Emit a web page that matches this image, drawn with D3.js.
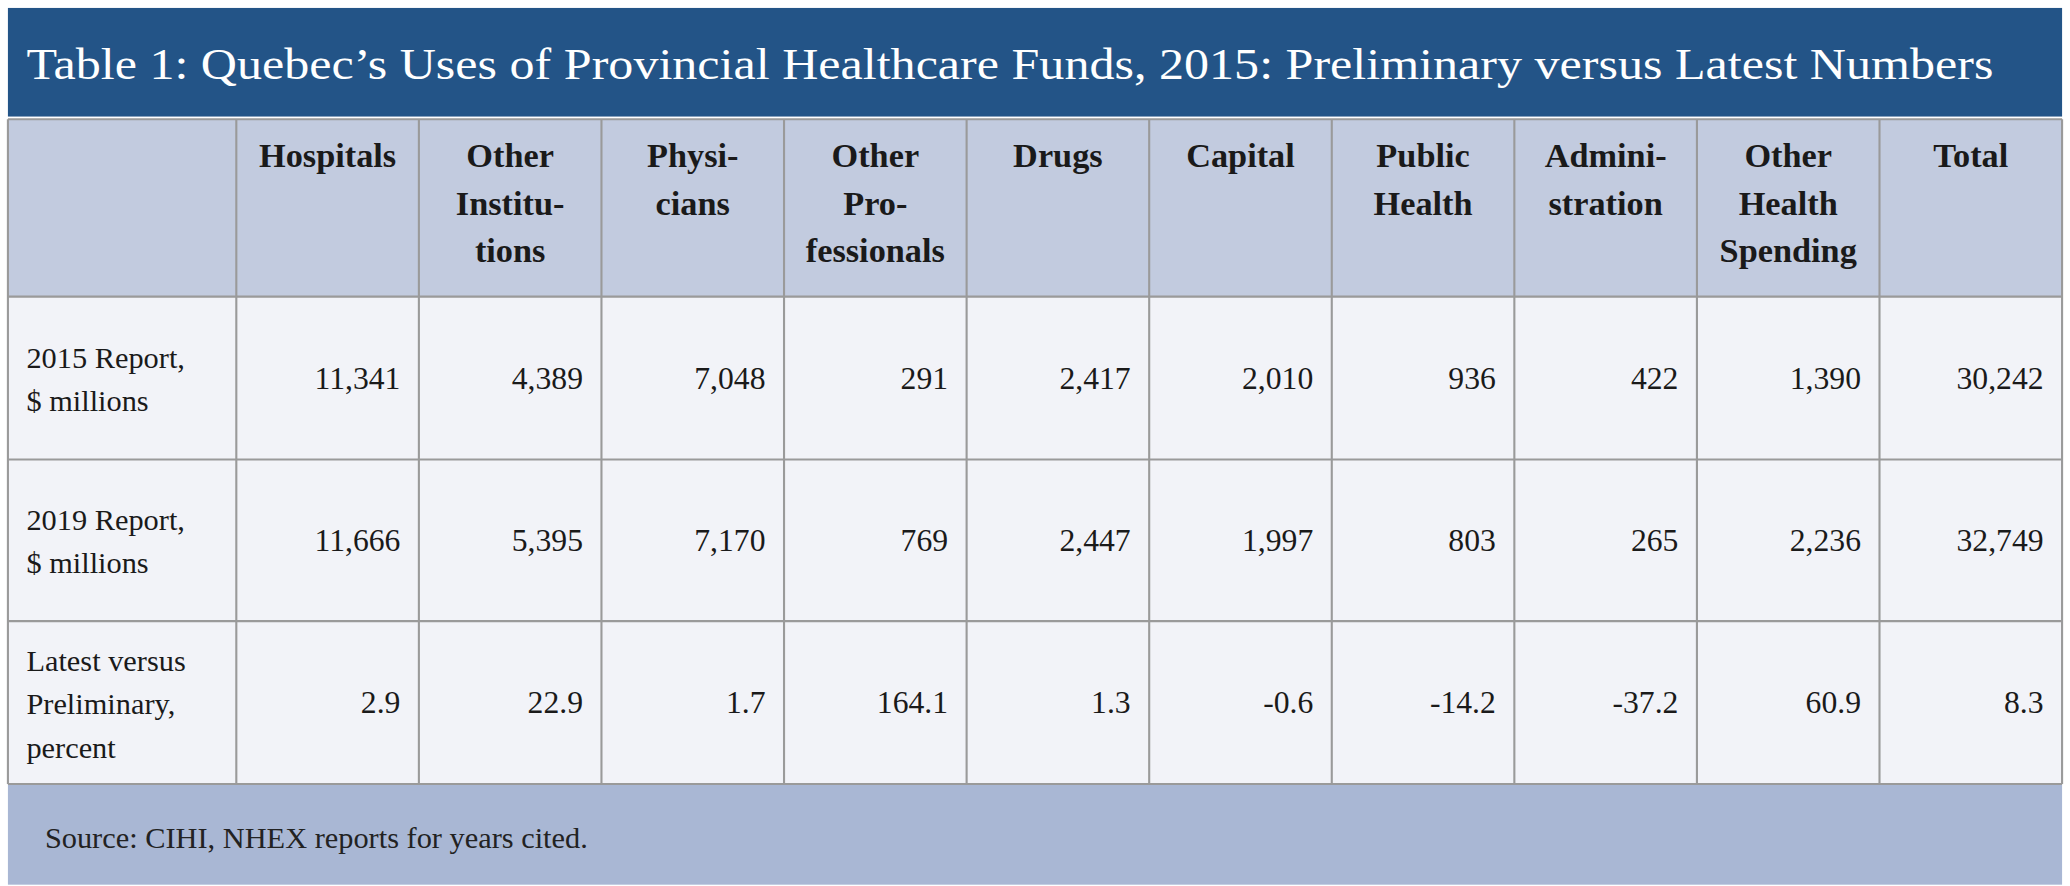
<!DOCTYPE html>
<html><head><meta charset="utf-8">
<script src="https://cdn.jsdelivr.net/npm/d3@7"></script>
<style>body{margin:0;background:#fff}svg{display:block}</style>
</head><body><div id="chart"></div>
<script>
const title = "Table 1: Quebec’s Uses of Provincial Healthcare Funds, 2015: Preliminary versus Latest Numbers";
const columns = [["Hospitals"], ["Other", "Institu-", "tions"], ["Physi-", "cians"], ["Other", "Pro-", "fessionals"],
  ["Drugs"], ["Capital"], ["Public", "Health"], ["Admini-", "stration"], ["Other", "Health", "Spending"], ["Total"]];
const rowLabels = [["2015 Report,", "$ millions"], ["2019 Report,", "$ millions"], ["Latest versus", "Preliminary,", "percent"]];
const report2015 = ["11,341", "4,389", "7,048", "291", "2,417", "2,010", "936", "422", "1,390", "30,242"];
const report2019 = ["11,666", "5,395", "7,170", "769", "2,447", "1,997", "803", "265", "2,236", "32,749"];
const pctChange = ["2.9", "22.9", "1.7", "164.1", "1.3", "-0.6", "-14.2", "-37.2", "60.9", "8.3"];
const source = "Source: CIHI, NHEX reports for years cited.";
const rows = [report2015, report2019, pctChange];

const W = 1568, H = 669;
const svg = d3.select("#chart").append("svg")
  .attr("width", 2070).attr("height", 886)
  .attr("viewBox", `0 0 ${W} ${H}`).attr("preserveAspectRatio", "none")
  .style("font-family", "'Liberation Serif', 'DejaVu Serif', serif");

const left = 6, right = 1562, labelW = 173;
const x = d3.scaleBand().domain(d3.range(columns.length)).range([left + labelW, right]);
const rowEdges = [90, 224, 347, 469, 592];
const grid = "#9a9a9a";

// title band
svg.append("rect").attr("x", left).attr("y", 6).attr("width", right - left).attr("height", 82).attr("fill", "#235487");
svg.append("text").attr("x", 20).attr("y", 60).attr("fill", "#fff").attr("font-size", 33)
  .attr("textLength", 1490).attr("lengthAdjust", "spacingAndGlyphs").text(title);

// header row
svg.append("rect").attr("x", left).attr("y", rowEdges[0]).attr("width", right - left)
  .attr("height", rowEdges[1] - rowEdges[0]).attr("fill", "#c2cbdf");
// body
svg.append("rect").attr("x", left).attr("y", rowEdges[1]).attr("width", right - left)
  .attr("height", rowEdges[4] - rowEdges[1]).attr("fill", "#f2f3f8");
// footer
svg.append("rect").attr("x", left).attr("y", rowEdges[4]).attr("width", right - left)
  .attr("height", 668 - rowEdges[4]).attr("fill", "#a9b7d4");
svg.append("text").attr("x", 34).attr("y", 640).attr("font-size", 23).attr("fill", "#222").text(source);

// grid lines
const gl = svg.append("g").attr("stroke", grid).attr("stroke-width", 1.6);
rowEdges.forEach(y => gl.append("line").attr("x1", left).attr("x2", right).attr("y1", y).attr("y2", y));
[left, ...d3.range(columns.length).map(i => x(i)), right].forEach(xx =>
  gl.append("line").attr("x1", xx).attr("x2", xx).attr("y1", rowEdges[0]).attr("y2", rowEdges[4]));

// column headers
columns.forEach((lines, i) => {
  const t = svg.append("text").attr("x", x(i) + x.bandwidth() / 2).attr("y", 126)
    .attr("text-anchor", "middle").attr("font-size", 26).attr("font-weight", "bold").attr("fill", "#1a1a1a");
  lines.forEach((s, j) => t.append("tspan").attr("x", x(i) + x.bandwidth() / 2).attr("dy", j ? 36 : 0).text(s));
});

// rows
rows.forEach((vals, r) => {
  const y0 = rowEdges[r + 1], y1 = rowEdges[r + 2], mid = (y0 + y1) / 2;
  const lab = rowLabels[r];
  const t = svg.append("text").attr("x", 20).attr("font-size", 23).attr("fill", "#1a1a1a")
    .attr("y", mid + 8 - (lab.length - 1) * 16);
  lab.forEach((s, j) => t.append("tspan").attr("x", 20).attr("dy", j ? 33 : 0).text(s));
  svg.selectAll(null).data(vals).enter().append("text")
    .attr("x", (d, i) => x(i) + x.bandwidth() - 14).attr("y", mid + 8)
    .attr("text-anchor", "end").attr("font-size", 24).attr("fill", "#1a1a1a").text(d => d);
});
</script></body></html>
